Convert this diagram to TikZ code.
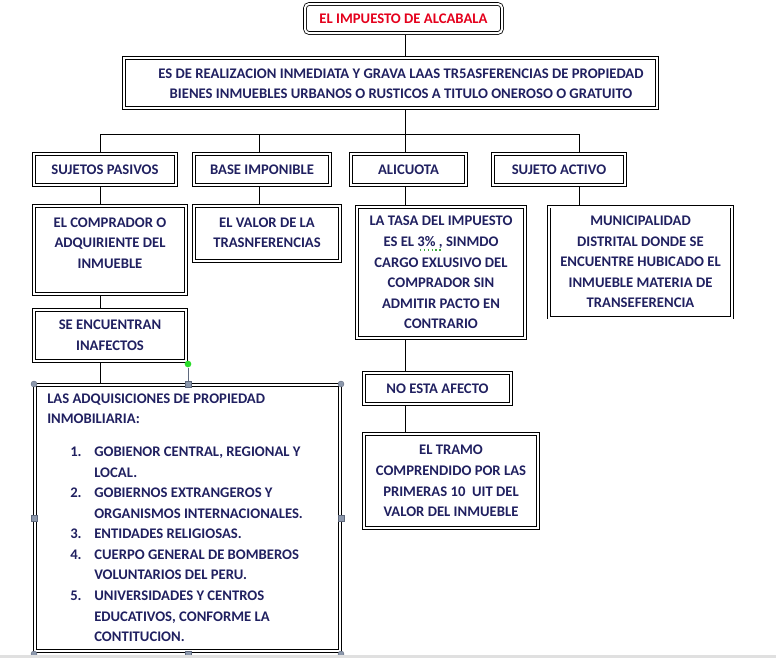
\documentclass[tikz,border=0pt]{standalone}
\usepackage{fontspec}
\setmainfont{Carlito}
\pgfdeclarelayer{background}
\pgfsetlayers{background,main}
\definecolor{navy}{RGB}{32,32,96}
\definecolor{titlered}{RGB}{228,0,28}
\definecolor{handle}{RGB}{140,152,172}
\definecolor{handleb}{RGB}{95,105,125}
\definecolor{rot}{RGB}{40,220,40}
\definecolor{spell}{RGB}{60,170,60}
\tikzset{
  box/.style={draw=black, line width=0.6pt, double=white, double distance=1.5pt,
    inner sep=0pt, align=center, text=navy,
    font=\fontsize{11pt}{15.4pt}\selectfont\bfseries},
  sz/.style 2 args={minimum width=#1*0.75pt, minimum height=#2*0.75pt},
  txt/.style={inner sep=0pt, text=navy, font=\fontsize{11pt}{15.4pt}\selectfont\bfseries},
  conn/.style={draw=black, line width=0.75pt},
  cornerh/.style={circle, fill=handle, draw=handleb, line width=0.3pt, inner sep=0pt, minimum size=4.5pt},
  sideh/.style={rectangle, fill=handle, draw=handleb, line width=0.3pt, inner sep=0pt, minimum size=4.5pt},
}
\begin{document}
\begin{tikzpicture}[x=0.75pt,y=-0.75pt]
\useasboundingbox (0,0) rectangle (776,658);
% boxes
\node[box, rounded corners=3pt, text=titlered, font=\fontsize{11pt}{15pt}\selectfont\bfseries, sz={197}{29}] (title) at (403.5,18.5) {EL IMPUESTO DE ALCABALA};
\node[box, sz={533}{50}] (main) at (390.5,83) {};
\node[txt, align=center, font=\fontsize{11pt}{15pt}\selectfont\bfseries] (mainT) at (401,83.5) {ES DE REALIZACION INMEDIATA Y GRAVA LAAS TR5ASFERENCIAS DE PROPIEDAD\\BIENES INMUEBLES URBANOS O RUSTICOS A TITULO ONEROSO O GRATUITO};
\node[box, sz={142}{31}] (spas) at (105,169.5) {SUJETOS PASIVOS};
\node[box, sz={136}{31}] (base) at (262,169.5) {BASE IMPONIBLE};
\node[box, sz={115}{31}] (alic) at (408.5,169.5) {ALICUOTA};
\node[box, sz={132}{31}] (sact) at (559,169.5) {SUJETO ACTIVO};
\node[box, sz={152}{88}] (comp) at (110,250) {};
\node[txt, align=center, anchor=north] (compT) at (110,217.5) {EL COMPRADOR O\\ADQUIRIENTE DEL\\INMUEBLE};
\node[box, sz={146}{55}] (valor) at (267,233.5) {};
\node[txt, align=center, anchor=north] (valorT) at (267,217.5) {EL VALOR DE LA\\TRASNFERENCIAS};
\node[box, sz={168}{131}] (tasa) at (441,272.5) {LA TASA DEL IMPUESTO\\ES EL 3\% , SINMDO\\CARGO EXLUSIVO DEL\\COMPRADOR SIN\\ADMITIR PACTO EN\\CONTRARIO};
\node[box, sz={183}{111}] (muni) at (640.5,262) {MUNICIPALIDAD\\DISTRITAL DONDE SE\\ENCUENTRE HUBICADO EL\\INMUEBLE MATERIA DE\\TRANSEFERENCIA};
\node[box, sz={152}{51}] (senc) at (110,335.5) {SE ENCUENTRAN\\INAFECTOS};
\node[box, sz={305}{266}] (adq) at (187.5,518) {};
\node[txt, align=left, anchor=north west] (adqT) at (47,393.3) {LAS ADQUISICIONES DE PROPIEDAD\\
INMOBILIARIA:\\[9.4pt]
\hspace*{17.25pt}\makebox[18pt][l]{1.}GOBIENOR CENTRAL, REGIONAL Y\\
\hspace*{35.25pt}LOCAL.\\
\hspace*{17.25pt}\makebox[18pt][l]{2.}GOBIERNOS EXTRANGEROS Y\\
\hspace*{35.25pt}ORGANISMOS INTERNACIONALES.\\
\hspace*{17.25pt}\makebox[18pt][l]{3.}ENTIDADES RELIGIOSAS.\\
\hspace*{17.25pt}\makebox[18pt][l]{4.}CUERPO GENERAL DE BOMBEROS\\
\hspace*{35.25pt}VOLUNTARIOS DEL PERU.\\
\hspace*{17.25pt}\makebox[18pt][l]{5.}UNIVERSIDADES Y CENTROS\\
\hspace*{35.25pt}EDUCATIVOS, CONFORME LA\\
\hspace*{35.25pt}CONTITUCION.};
\node[box, sz={147}{31}] (noafe) at (437.5,388.5) {NO ESTA AFECTO};
\node[box, sz={174}{94}] (tramo) at (451,481) {EL TRAMO\\COMPRENDIDO POR LAS\\PRIMERAS 10 \ UIT DEL\\VALOR DEL INMUEBLE};
% spell-check underline under "3%"
\draw[spell, dotted, line width=0.9pt] (420,250) -- (441,250);
% bus coordinates
\coordinate (b1) at (100,134);
\coordinate (b2) at (259,134);
\coordinate (b3) at (405,134);
\coordinate (b4) at (579,134);
\begin{pgfonlayer}{background}
\draw[conn] (title.south -| b3) -- (main.north -| b3);
\draw[conn] (main.south -| b3) -- (b3);
\draw[conn] (b1) -- (b4);
\draw[conn] (b1) -- (spas.north -| b1);
\draw[conn] (b2) -- (base.north -| b2);
\draw[conn] (b3) -- (alic.north -| b3);
\draw[conn] (b4) -- (sact.north -| b4);
\draw[conn] (spas.south -| b1) -- (comp.north -| b1);
\draw[conn] (base.south -| b2) -- (valor.north -| b2);
\draw[conn] (alic.south -| b3) -- (tasa.north -| b3);
\draw[conn] (sact.south -| b4) -- (muni.north -| b4);
\draw[conn] (comp.south -| b1) -- (senc.north -| b1);
\draw[conn] (senc.south -| b1) -- (adq.north -| b1);
\draw[conn] (tasa.south -| b3) -- (noafe.north -| b3);
\draw[conn] (noafe.south -| b3) -- (tramo.north -| b3);
\end{pgfonlayer}
% selection handles
\node[circle, fill=rot, inner sep=0pt, minimum size=5pt] (rh) at (188,364) {};
\node[sideh] (hn) at (188,384) {};
\draw[handleb, line width=0.5pt] (rh) -- (hn);
\node[cornerh] (hnw) at (34,384) {};
\node[cornerh] (hne) at (341,384) {};
\node[sideh] (hw) at (34,518) {};
\node[sideh] (he) at (341,518) {};
\node[cornerh] (hsw) at (34,654) {};
\node[cornerh] (hse) at (341,654) {};
\node[sideh] (hs) at (188,654) {};
\fill[black!12] (0,655) rectangle (776,658);
\end{tikzpicture}
\end{document}
